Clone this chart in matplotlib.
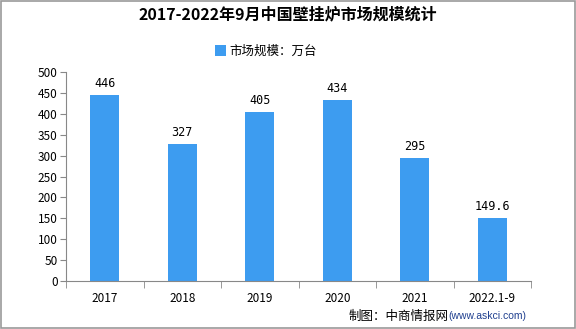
import matplotlib.pyplot as plt
from matplotlib.patches import Rectangle

plt.rcParams['font.family'] = ['Noto Sans CJK SC', 'DejaVu Sans']

categories = ['2017', '2018', '2019', '2020', '2021', '2022.1-9']
values = [446, 327, 405, 434, 295, 149.6]
value_labels = ['446', '327', '405', '434', '295', '149.6']
yticks = [0, 50, 100, 150, 200, 250, 300, 350, 400, 450, 500]

bar_color = '#3d9cf0'
axis_color = '#888888'

fig = plt.figure(figsize=(5.76, 3.29), dpi=100)
ax = fig.add_axes([0.1146, 0.146, 0.8074, 0.635])

x = list(range(len(categories)))
ax.bar(x, values, width=0.37, color=bar_color, label='市场规模：万台', zorder=2)
for xi, v, lab in zip(x, values, value_labels):
    ax.text(xi, v + 12, lab, ha='center', va='bottom', fontsize=8.5,
            family=['DejaVu Sans Mono'])

ax.set_xlim(-0.5, len(categories) - 0.5)
ax.set_ylim(0, 500)
ax.set_yticks(yticks)
ax.set_yticklabels([str(t) for t in yticks], fontsize=8.5)
ax.set_xticks(x)
ax.set_xticklabels(categories, fontsize=8.5)
ax.set_xticks([i - 0.5 for i in range(len(categories) + 1)], minor=True)
ax.tick_params(axis='x', which='major', length=0, pad=8)
ax.tick_params(axis='x', which='minor', length=5, color=axis_color)
ax.tick_params(axis='y', length=4, color=axis_color, pad=2)

for side in ['top', 'right']:
    ax.spines[side].set_visible(False)
for side in ['left', 'bottom']:
    ax.spines[side].set_color(axis_color)

fig.text(0.5, 0.955, '2017-2022年9月中国壁挂炉市场规模统计', ha='center', va='center',
         fontsize=11.5, fontweight='bold')
ax.legend(loc='center', bbox_to_anchor=(0.43, 1.1), frameon=False, fontsize=9,
          handlelength=0.9, handleheight=0.9, handletextpad=0.3)

# footer: source credit with the site address in blue
fig.text(0.778, 0.038, '制图：中商情报网', ha='right', va='center', fontsize=9)
fig.text(0.778, 0.038, '(www.askci.com)', ha='left', va='center', fontsize=7.5,
         color='#1f3f8f', family=['Liberation Sans'])

fig.patches.append(Rectangle((0.001, 0.002), 0.997, 0.995, transform=fig.transFigure,
                             fill=False, edgecolor='#999999', linewidth=1.2))

fig.savefig('out.png', dpi=100)
